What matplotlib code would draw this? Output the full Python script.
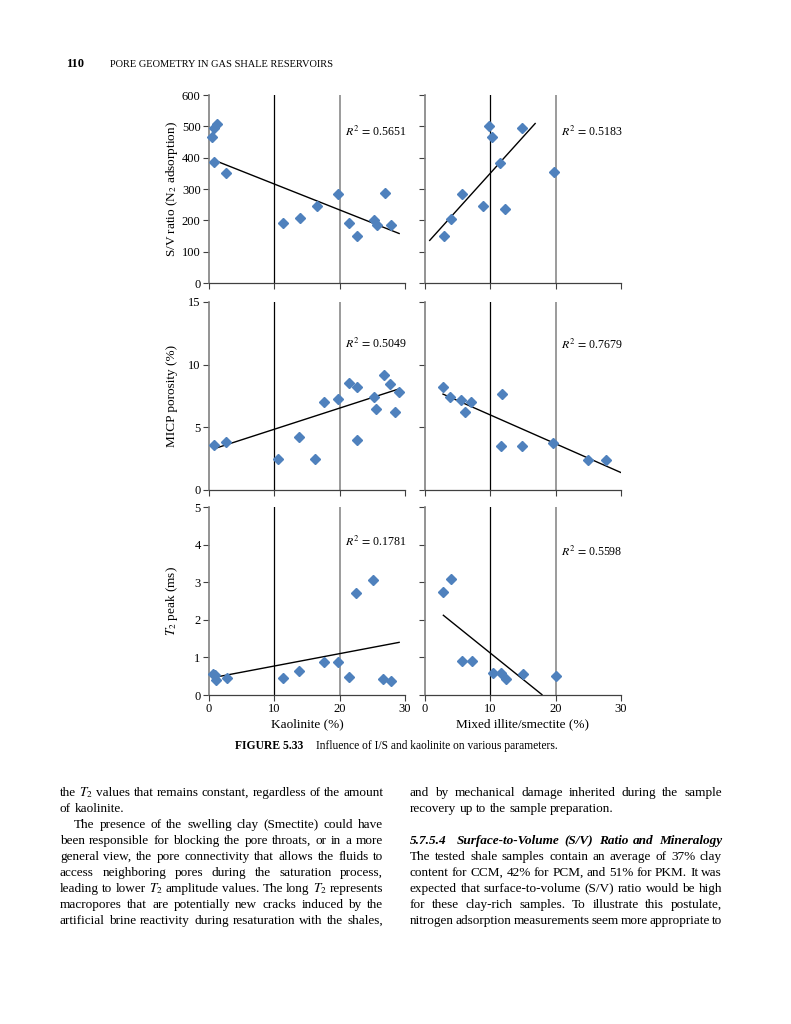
import matplotlib
matplotlib.use('Agg')
import matplotlib.pyplot as plt

plt.rcParams['font.family'] = ['Liberation Serif', 'DejaVu Serif']
plt.rcParams['mathtext.fontset'] = 'stix'

# ---------------- data ----------------
kaol_sv_x = [0.46, 0.7, 1.17, 0.7, 2.65, 11.3, 13.9, 16.6, 19.7, 21.5, 22.6, 25.2, 25.7, 26.9, 27.9]
kaol_sv_y = [467, 494, 506, 385, 351, 193, 208, 246, 285, 193, 151, 202, 186, 287, 185]
is_sv_x = [2.86, 4.04, 5.72, 8.84, 9.81, 10.27, 11.55, 12.26, 14.82, 19.72]
is_sv_y = [151, 204, 285, 245, 501, 467, 382, 237, 496, 355]

kaol_micp_x = [0.82, 2.55, 10.6, 13.8, 16.3, 17.55, 19.7, 21.5, 22.65, 22.7, 25.2, 25.56, 26.8, 27.75, 28.4, 29.1]
kaol_micp_y = [3.57, 3.84, 2.45, 4.24, 2.45, 7.04, 7.28, 8.53, 8.24, 3.95, 7.40, 6.50, 9.19, 8.47, 6.26, 7.81]
is_micp_x = [2.81, 3.88, 5.57, 6.18, 7.1, 11.8, 11.6, 14.8, 19.6, 25.0, 27.7]
is_micp_y = [8.18, 7.41, 7.22, 6.23, 7.01, 7.67, 3.49, 3.54, 3.73, 2.37, 2.37]

kaol_t2_x = [0.6, 0.9, 1.0, 2.7, 11.4, 13.8, 17.55, 19.7, 21.5, 22.55, 25.05, 26.7, 27.9]
kaol_t2_y = [0.57, 0.53, 0.39, 0.46, 0.44, 0.63, 0.87, 0.87, 0.49, 2.72, 3.07, 0.435, 0.38]
is_t2_x = [2.81, 3.99, 5.67, 7.15, 10.37, 11.65, 12.4, 15.0, 20.0]
is_t2_y = [2.75, 3.09, 0.90, 0.90, 0.59, 0.59, 0.42, 0.55, 0.50]

# trend line end points
trend_sv_kaol_x, trend_sv_kaol_y = [0.66, 29.1], [393, 158]
trend_sv_is_x, trend_sv_is_y = [0.72, 16.86], [136, 509]
trend_micp_kaol_x, trend_micp_kaol_y = [0.82, 29.1], [3.30, 8.07]
trend_micp_is_x, trend_micp_is_y = [2.76, 30.0], [7.65, 1.39]
trend_t2_kaol_x, trend_t2_kaol_y = [0.87, 29.1], [0.47, 1.40]
trend_t2_is_x, trend_t2_is_y = [2.81, 17.9], [2.12, 0.01]

r2_labels = ['0.5651', '0.5183', '0.5049', '0.7679', '0.1781', '0.5598']
y_labels = ['S/V ratio (N$_2$ adsorption)', 'MICP porosity (%)', '$T_2$ peak (ms)']
x_labels = ['Kaolinite (%)', 'Mixed illite/smectite (%)']
x_ticks = [0, 10, 20, 30]
y_ticks = [[0, 100, 200, 300, 400, 500, 600], [0, 5, 10, 15], [0, 1, 2, 3, 4, 5]]

W, H = 791, 1024
fig = plt.figure(figsize=(W / 100, H / 100), dpi=100)

def px_axes(x0, y0, x1, y1):
    return fig.add_axes([x0 / W, 1 - y1 / H, (x1 - x0) / W, (y1 - y0) / H])

rows = [(95, 283), (302, 490), (507, 695)]
cols = [(209, 405), (425, 621)]

panels = [
    (kaol_sv_x, kaol_sv_y, trend_sv_kaol_x, trend_sv_kaol_y),
    (is_sv_x, is_sv_y, trend_sv_is_x, trend_sv_is_y),
    (kaol_micp_x, kaol_micp_y, trend_micp_kaol_x, trend_micp_kaol_y),
    (is_micp_x, is_micp_y, trend_micp_is_x, trend_micp_is_y),
    (kaol_t2_x, kaol_t2_y, trend_t2_kaol_x, trend_t2_kaol_y),
    (is_t2_x, is_t2_y, trend_t2_is_x, trend_t2_is_y),
]
r2_pos = [(0.694, 0.803), (0.694, 0.803), (0.694, 0.777), (0.694, 0.771), (0.694, 0.814), (0.694, 0.761)]

blue = '#4F81BD'
tick_fs = 9
for i, (xs, ys, tx, ty) in enumerate(panels):
    r, c = divmod(i, 2)
    ax = px_axes(cols[c][0], rows[r][0], cols[c][1], rows[r][1])
    ax.set_xlim(0, 30)
    yt = y_ticks[r]
    ax.set_ylim(yt[0], yt[-1])
    ax.axvline(10, color='black', lw=0.9, zorder=1)
    ax.axvline(20, color='#808080', lw=1.1, zorder=1)
    ax.plot(tx, ty, color='black', lw=1.0, zorder=2)
    ax.plot(xs, ys, linestyle='none', marker='D', ms=5.2, color=blue,
            markeredgecolor=blue, zorder=3, clip_on=False)
    for s in ['top', 'right']:
        ax.spines[s].set_visible(False)
    ax.spines['left'].set_color('#808080')
    ax.spines['left'].set_linewidth(1.2)
    ax.spines['bottom'].set_color('#404040')
    ax.spines['bottom'].set_linewidth(0.9)
    ax.set_xticks(x_ticks)
    ax.set_yticks(yt)
    ax.tick_params(axis='both', direction='out', length=4, width=0.8,
                   color='#404040', labelsize=tick_fs, pad=2)
    if r < 2:
        ax.set_xticklabels([])
    if c == 1:
        ax.set_yticklabels([])
    ax.text(r2_pos[i][0], r2_pos[i][1], '$R^2\\,=\\,$' + r2_labels[i],
            transform=ax.transAxes, fontsize=8.6, ha='left', va='center')
    if c == 0:
        ax.text(-0.19, 0.5, y_labels[r], transform=ax.transAxes, rotation=90,
                ha='center', va='center', fontsize=9.5)
    if r == 2:
        ax.set_xlabel(x_labels[c], fontsize=9.5, labelpad=2)

# ---------------- page text ----------------
def fx(x):
    return x / W

def fy(y):
    return 1 - y / H

fig.text(fx(66), fy(67), '110', fontsize=9, fontweight='bold', va='baseline')
fig.text(fx(110), fy(67), 'PORE GEOMETRY IN GAS SHALE RESERVOIRS', fontsize=7.45, va='baseline')

fig.text(fx(235), fy(749), 'FIGURE 5.33', fontsize=8.4, fontweight='bold', va='baseline')
fig.text(fx(316), fy(749), 'Influence of I/S and kaolinite on various parameters.', fontsize=8.3, va='baseline')

renderer = fig.canvas.get_renderer()
body_fs = 9.5

def put_line(text, x0, x1, base, justify=True, **kw):
    words = text.split(' ')
    objs = [fig.text(0, 0, w, fontsize=body_fs, va='baseline', **kw) for w in words]
    widths = [o.get_window_extent(renderer).width for o in objs]
    if justify and len(words) > 1:
        gap = (x1 - x0 - sum(widths)) / (len(words) - 1)
    else:
        gap = body_fs * 0.25 * 100 / 72
    x = x0
    for o, wd in zip(objs, widths):
        o.set_position((fx(x), fy(base)))
        x += wd + gap

left_lines = [
    ('the $T_2$ values that remains constant, regardless of the amount', True, 0),
    ('of kaolinite.', False, 0),
    ('The presence of the swelling clay (Smectite) could have', True, 14),
    ('been responsible for blocking the pore throats, or in a more', True, 0),
    ('general view, the pore connectivity that allows the fluids to', True, 0),
    ('access neighboring pores during the saturation process,', True, 0),
    ('leading to lower $T_2$ amplitude values. The long $T_2$ represents', True, 0),
    ('macropores that are potentially new cracks induced by the', True, 0),
    ('artificial brine reactivity during resaturation with the shales,', True, 0),
]
right_lines = [
    ('and by mechanical damage inherited during the sample', True, {}),
    ('recovery up to the sample preparation.', False, {}),
    (None, None, None),
    ('5.7.5.4  Surface-to-Volume (S/V) Ratio and Mineralogy', True, {'fontweight': 'bold', 'fontstyle': 'italic'}),
    ('The tested shale samples contain an average of 37% clay', True, {}),
    ('content for CCM, 42% for PCM, and 51% for PKM. It was', True, {}),
    ('expected that surface-to-volume (S/V) ratio would be high', True, {}),
    ('for these clay-rich samples. To illustrate this postulate,', True, {}),
    ('nitrogen adsorption measurements seem more appropriate to', True, {}),
]
base0 = 796
step = 16
for k, (t, j, ind) in enumerate(left_lines):
    put_line(t, 60 + ind, 383, base0 + k * step, justify=j)
for k, (t, j, kw) in enumerate(right_lines):
    if t is None:
        continue
    put_line(t, 410, 722, base0 + k * step, justify=j, **kw)

fig.savefig('out.png', dpi=100)
